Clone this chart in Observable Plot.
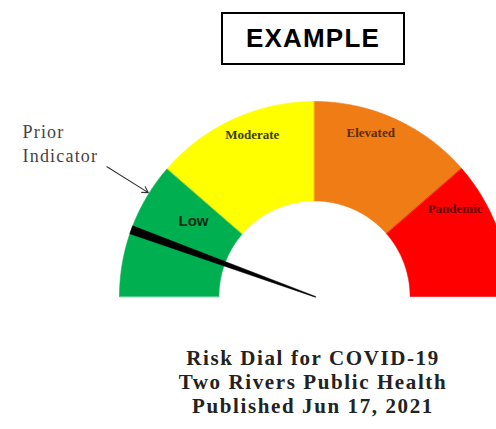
<!DOCTYPE html>
<html>
<head>
<meta charset="utf-8">
<script src="https://cdn.jsdelivr.net/npm/d3@7"></script>
<script src="https://cdn.jsdelivr.net/npm/@observablehq/plot@0.6"></script>
<style>
  html, body { margin: 0; padding: 0; background: #fff; }
  #wrap { position: relative; width: 496px; height: 429px; overflow: hidden; }
  #example {
    position: absolute; left: 221px; top: 12px; width: 180px; height: 49px;
    border: 2px solid #000; font: bold 26px "Liberation Sans", Arial, sans-serif;
    letter-spacing: 1.2px; display: flex; align-items: center; justify-content: center;
    color: #000;
  }
  #chart { position: absolute; left: 0; top: 0; }
  #title {
    position: absolute; left: 0; top: 346px; width: 626px; text-align: center;
    font: bold 21px "Liberation Serif", "Times New Roman", serif; letter-spacing: 1.6px;
    line-height: 24px; color: #222;
  }
</style>
</head>
<body>
<div id="wrap">
  <div id="chart"></div>
  <div id="example">EXAMPLE</div>
  <div id="title">Risk Dial for COVID-19<br>Two Rivers Public Health<br>Published Jun 17, 2021</div>
</div>
<script>
// ---- data ----
const segments = ["Low", "Moderate", "Elevated", "Pandemic"];
const segStart = [0, 41, 90, 139];     // degrees, measured from the left end of the dial
const segEnd   = [41, 90, 139, 180];
const segColors = ["#00b050", "#ffff00", "#f07c15", "#ff0000"];
const currentValue = 20;               // needle angle (degrees)
const priorValue = 32;                 // prior indicator angle (degrees)
const annotation = ["Prior", "Indicator"];

// ---- layout (not data) ----
const W = 496, H = 330, CX = 314, CY = 296, R = 195;
const innerR = 0.49;
const labelAngle = [31.8, 69, 109, 148];
const labelRadius = [0.73, 0.89, 0.885, 0.85];
const labelColor = ["#0b2e14", "#3a3a00", "#5a2a00", "#600000"];

const P = (deg, r) => {
  const t = deg * Math.PI / 180;
  return { x: -r * Math.cos(t), y: r * Math.sin(t) };
};

function ring(a0, a1, r0, r1) {
  const pts = [];
  for (let a = a0; a <= a1 + 1e-9; a += 0.5) pts.push(P(a, r1));
  for (let a = a1; a >= a0 - 1e-9; a -= 0.5) pts.push(P(a, r0));
  return pts;
}

const marks = segments.map((s, i) =>
  Plot.line(ring(segStart[i], segEnd[i], innerR, 1), {
    x: "x", y: "y", fill: segColors[i], stroke: segColors[i], strokeWidth: 0.6, curve: "linear-closed"
  })
);

// needle wedge
const t = currentValue * Math.PI / 180;
const n = { x: Math.sin(t), y: Math.cos(t) };
const hw = 4.2 / R, tw = 0.4 / R;
const tip = P(currentValue, -0.005), end = P(currentValue, 1.0);
const needle = [
  { x: tip.x + n.x * tw, y: tip.y + n.y * tw },
  { x: end.x + n.x * hw, y: end.y + n.y * hw },
  { x: end.x - n.x * hw, y: end.y - n.y * hw },
  { x: tip.x - n.x * tw, y: tip.y - n.y * tw }
];
marks.push(Plot.line(needle, { x: "x", y: "y", fill: "#000", stroke: "#000", strokeWidth: 0.5, curve: "linear-closed" }));

// labels
const labels = segments.map((s, i) => ({ label: s, ...P(labelAngle[i], labelRadius[i]), i }));
marks.push(Plot.text(labels.filter(d => d.i > 0), {
  x: "x", y: "y", text: "label", fill: d => labelColor[d.i],
  fontFamily: "Liberation Serif, serif", fontWeight: "bold", fontSize: 13
}));
marks.push(Plot.text(labels.filter(d => d.i === 0), {
  x: "x", y: "y", text: "label", fill: d => labelColor[d.i],
  fontFamily: "Liberation Sans, Arial, sans-serif", fontWeight: "bold", fontSize: 15
}));

// prior indicator arrow + annotation
const a0 = P(priorValue, 1.255), a1 = P(priorValue, 1.005);
marks.push(Plot.arrow([{ x1: a0.x, y1: a0.y, x2: a1.x, y2: a1.y }], {
  x1: "x1", y1: "y1", x2: "x2", y2: "y2", stroke: "#333", strokeWidth: 1.1, headLength: 9, bend: 0
}));
const ax = (22 - CX) / R;
marks.push(Plot.text(annotation.map((s, i) => ({ s, i })), {
  x: () => ax, y: d => (CY - (137 + d.i * 24)) / R, text: "s", textAnchor: "start", lineAnchor: "bottom",
  fill: "#444", fontFamily: "Liberation Serif, serif", fontSize: 18
}));

const chart = Plot.plot({
  width: W, height: H,
  marginTop: 0, marginRight: 0, marginBottom: 0, marginLeft: 0,
  x: { domain: [-CX / R, (W - CX) / R], axis: null },
  y: { domain: [-(H - CY) / R, CY / R], axis: null },
  color: { type: "identity" },
  marks
});
chart.querySelectorAll("text").forEach(el => {
  if (el.textContent === "Prior" || el.textContent === "Indicator") el.style.letterSpacing = "1.2px";
});
document.getElementById("chart").appendChild(chart);
</script>
</body>
</html>
